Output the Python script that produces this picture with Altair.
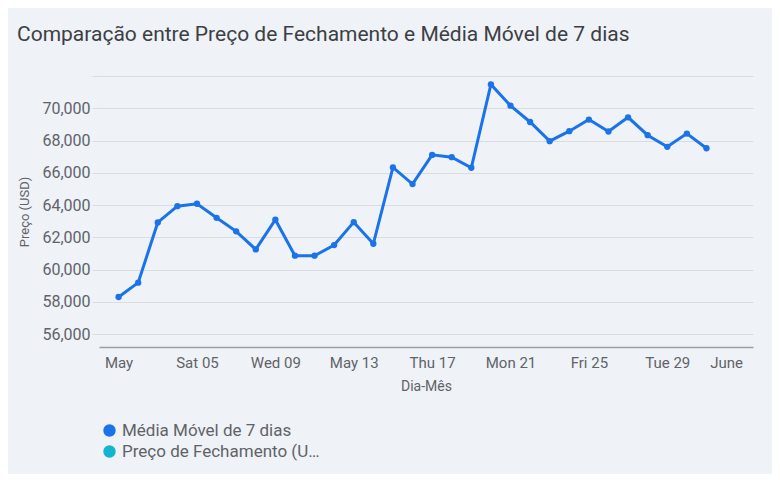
import altair as alt
import pandas as pd

dates = [f"2018-05-{d:02d}" for d in range(1, 32)]
media_movel = [58300, 59190, 62920, 63930, 64080, 63210, 62370, 61250, 63090, 60860,
               60860, 61520, 62940, 61600, 66330, 65300, 67110, 66970, 66310, 71480,
               70160, 69150, 67960, 68580, 69300, 68560, 69440, 68330, 67610, 68430, 67520]
series_names = ["Média Móvel de 7 dias", "Preço de Fechamento (USD)"]
series_colors = ["#1a73e8", "#12b5cb"]
y_ticks = [56000, 58000, 60000, 62000, 64000, 66000, 68000, 70000, 72000]
x_tick_days = [1, 5, 9, 13, 17, 21, 25, 29]

df = pd.DataFrame({"data": dates, "preco": media_movel, "serie": series_names[0]})

font = "Roboto"
x_values = [alt.DateTime(year=2018, month="May", date=d, utc=True) for d in x_tick_days] + \
           [alt.DateTime(year=2018, month="June", date=1, utc=True)]

x = alt.X("data:T",
          title="Dia-Mês",
          scale=alt.Scale(type="utc",
                          domain=[alt.DateTime(year=2018, month="April", date=30, utc=True),
                                  alt.DateTime(year=2018, month="June", date=2, hours=9, utc=True)]),
          axis=alt.Axis(values=x_values, grid=False, ticks=False, labelPadding=8,
                        domainColor="#9aa0a6", domainWidth=1.5,
                        labelColor="#5f6368", labelFontSize=15, labelFont=font,
                        titleColor="#5f6368", titleFontSize=14, titleFont=font,
                        titleFontWeight="normal", titlePadding=9))
y = alt.Y("preco:Q",
          title="Preço (USD)",
          scale=alt.Scale(domain=[55200, 72000], nice=False, zero=False),
          axis=alt.Axis(values=y_ticks, domain=False,
                        labelExpr="datum.value == 72000 ? '' : format(datum.value, ',')",
                        gridColor="#dadce0", tickColor="#dadce0", tickSize=7,
                        labelPadding=2, labelColor="#5f6368", labelFontSize=16,
                        labelFont=font, titleColor="#5f6368", titleFontSize=13,
                        titleFont=font, titleFontWeight="normal", titlePadding=10))
color = alt.Color("serie:N",
                  scale=alt.Scale(domain=series_names, range=series_colors),
                  legend=alt.Legend(title=None, orient="none", legendX=2, legendY=346,
                                    direction="vertical", symbolType="circle",
                                    symbolSize=154, symbolStrokeWidth=0,
                                    symbolOpacity=1, labelFontSize=17, labelFont=font,
                                    labelColor="#5f6368", labelLimit=205, rowPadding=3,
                                    padding=0))

line = alt.Chart(df).mark_line(strokeWidth=3).encode(x=x, y=y, color=color)
pts = alt.Chart(df).mark_circle(size=40, opacity=1).encode(x=x, y=y, color=color)

chart = alt.layer(line, pts).properties(
    width=654, height=271,
    autosize=alt.AutoSizeParams(type="none"),
    padding={"left": 91, "top": 68, "right": 19, "bottom": 127},
    background="#eff2f7",
    title=alt.Title("Comparação entre Preço de Fechamento e Média Móvel de 7 dias",
                    anchor="start", frame="group", dx=-82, dy=-27,
                    font=font, fontSize=21, fontWeight="normal", color="#3c4043"),
).configure_view(stroke=None)

chart.save("out.html", embed_options={"renderer": "svg", "actions": False})
